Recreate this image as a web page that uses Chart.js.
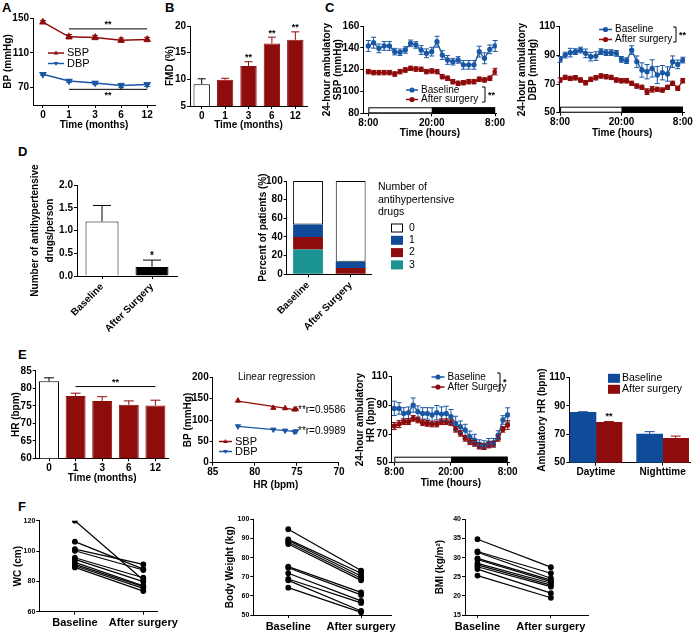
<!DOCTYPE html>
<html>
<head>
<meta charset="utf-8">
<script src="https://cdn.jsdelivr.net/npm/chart.js@4.4.1/dist/chart.umd.min.js"></script>
<style>
body { margin: 0; background: #fff; }
#fig { position: relative; width: 694px; height: 633px; overflow: hidden; background: #fff; }
#fig canvas { position: absolute; left: 0; top: 0; }
.lbl { position: absolute; font: bold 13px 'Liberation Sans', Arial, sans-serif; color: #000; }
</style>
</head>
<body>
<div id="fig">
  <div class="lbl" style="left:2px;top:0px">A</div>
  <div class="lbl" style="left:165px;top:0px">B</div>
  <div class="lbl" style="left:325px;top:0px">C</div>
  <div class="lbl" style="left:18px;top:144px">D</div>
  <div class="lbl" style="left:18px;top:347px">E</div>
  <div class="lbl" style="left:18px;top:499px">F</div>
</div>
<script>
// ---- data ----
const monthLabels = ['0', '1', '3', '6', '12'];
const sbpMonths = [145.3, 128.4, 127.6, 124.5, 125.3];
const sbpMonthsErr = [2.0, 2.5, 2.5, 2.5, 2.5];
const dbpMonths = [85.3, 77.6, 75.3, 72.4, 73.5];
const dbpMonthsErr = [1.0, 1.5, 1.8, 2.5, 2.2];

const fmd = [9.1, 9.9, 12.5, 16.7, 17.4];
const fmdErr = [1.0, 0.3, 0.8, 1.2, 1.5];

const hours = [0, 1, 2, 3, 4, 5, 6, 7, 8, 9, 10, 11, 12, 13, 14, 15, 16, 17, 18, 19, 20, 21, 22, 23, 24];
const hourTickValues = [0, 12, 24];
const hourLabels = ['8:00', '20:00', '8:00'];
const sbpBase = [141.7, 144.7, 139.5, 141.7, 141.7, 136.5, 135.9, 138.0, 144.1, 142.6, 138.0, 135.0, 136.5, 145.6, 133.4, 128.9, 127.3, 128.9, 124.4, 124.4, 124.4, 136.5, 130.4, 138.6, 141.7];
const sbpBaseErr = [5, 5, 4, 4, 4, 3, 3, 3, 3, 3, 4, 4, 4, 5, 4, 4, 3, 3, 4, 4, 4, 5, 5, 4, 5];
const sbpAfter = [118.2, 117.3, 117.3, 117.3, 117.3, 116.0, 118.2, 119.7, 121.2, 120.6, 120.3, 118.2, 118.8, 118.2, 113.6, 112.1, 109.0, 107.5, 108.1, 109.0, 109.0, 111.2, 110.6, 112.1, 118.2];
const sbpAfterErr = [2, 2, 2, 2, 2, 2, 2, 2, 2, 2, 2, 2, 2, 2, 2, 2, 2, 2, 2, 2, 2, 2, 2, 2, 3];
const dbpBase = [87.2, 90.2, 91.9, 92.6, 93.7, 91.4, 89.1, 89.5, 92.6, 91.9, 91.9, 91.4, 87.2, 86.3, 93.7, 85.6, 79.8, 78.6, 80.9, 76.3, 77.9, 77.0, 85.6, 83.7, 86.7];
const dbpBaseErr = [2, 2, 3, 2, 2, 3, 3, 3, 2, 2, 2, 2, 2, 2, 3, 4, 5, 5, 6, 6, 5, 5, 4, 3, 2];
const dbpAfter = [72.8, 74.6, 73.9, 74.4, 72.8, 70.9, 73.3, 74.4, 75.6, 75.1, 74.6, 72.8, 72.3, 72.3, 70.5, 68.6, 67.7, 64.7, 66.3, 66.3, 65.8, 67.7, 70.5, 67.0, 72.3];
const dbpAfterErr = [1.5, 1.5, 1.5, 1.5, 1.5, 1.5, 1.5, 1.5, 1.5, 1.5, 1.5, 1.5, 1.5, 1.5, 1.5, 1.5, 1.5, 2, 2, 1.5, 1.5, 1.5, 1.5, 1.5, 1.5];

const drugGroups = ['Baseline', 'After Surgery'];
const drugsPerPerson = [1.2, 0.2];
const drugsPerPersonErr = [0.35, 0.15];
const drugCountLabels = ['0', '1', '2', '3'];
const pctDrugs0 = [46.7, 86.6];
const pctDrugs1 = [13.3, 6.7];
const pctDrugs2 = [13.3, 6.7];
const pctDrugs3 = [26.7, 0];

const hrMonths = [82.0, 77.8, 76.4, 75.3, 75.1];
const hrMonthsErr = [1.0, 0.8, 1.2, 1.1, 1.5];
const rSbp = 'r=0.9586';
const rDbp = 'r=0.9989';

const hrBase = [87.9, 87.9, 84.4, 84.9, 90.2, 85.6, 84.4, 84.4, 83.3, 84.9, 83.9, 84.4, 82.1, 77.4, 75.1, 72.8, 68.1, 65.8, 63.0, 62.3, 63.9, 63.9, 69.3, 79.8, 83.3];
const hrBaseErr = [5, 4, 4, 4, 5, 4, 4, 4, 5, 5, 5, 5, 5, 5, 4, 4, 4, 4, 3, 3, 3, 3, 3, 3, 5];
const hrAfter = [75.6, 77.0, 78.6, 78.6, 80.9, 79.8, 77.9, 77.4, 77.0, 77.0, 78.6, 78.6, 77.9, 73.3, 70.5, 67.0, 64.6, 63.5, 61.6, 61.2, 62.3, 63.0, 67.0, 73.3, 76.3];
const hrAfterErr = [2.5, 2.5, 2, 2, 2, 2, 2, 2, 2, 2, 2, 2, 2, 2, 2, 2, 2, 2, 2, 2, 2, 2, 2, 2, 3];

const periodLabels = ['Daytime', 'Nighttime'];
const ambHrBase = [85.4, 70.1];
const ambHrBaseErr = [0.4, 1.7];
const ambHrAfter = [78.4, 67.1];
const ambHrAfterErr = [0.5, 1.6];

const visitLabels = ['Baseline', 'After surgery'];
const wcBase = [120.0, 106.2, 101.3, 100.2, 95.6, 94.5, 92.5, 91.2, 90.3, 89.2];
const wcAfter = [80.9, 88.1, 91.2, 87.5, 82.4, 79.8, 77.1, 76.5, 75.4, 73.6];
const weightBase = [94.8, 89.5, 88.9, 88.0, 87.1, 75.3, 74.7, 71.8, 68.8, 68.1, 64.3];
const weightAfter = [73.2, 71.8, 70.4, 69.2, 68.1, 61.8, 60.5, 57.4, 56.3, 52.1, 51.4];
const bmiBase = [34.8, 31.6, 31.4, 29.8, 29.5, 28.5, 28.1, 27.6, 27.0, 25.3];
const bmiAfter = [27.5, 25.9, 24.6, 24.1, 23.7, 23.3, 22.8, 22.4, 20.7, 19.5];

// ---- style ----
const W = 694, H = 633;
const RED = '#8e0c0c', BLUE = '#1b58a3', BARBLUE = '#0f4b98', TEAL = '#1c9393';
const FONT = "'Liberation Sans', Arial, Helvetica, sans-serif";

Chart.defaults.font.family = FONT;
Chart.defaults.color = '#000';
Chart.defaults.animation = false;
Chart.defaults.responsive = false;
Chart.defaults.events = [];
Chart.defaults.plugins.legend.display = false;
Chart.defaults.plugins.tooltip.enabled = false;

function makeCanvas() {
  const c = document.createElement('canvas');
  c.width = W; c.height = H;
  document.getElementById('fig').appendChild(c);
  return c;
}

// plot rect in figure pixels -> layout padding (axis sizes are fixed with afterFit)
function pad(p, yW, xH) {
  return { left: p.l - yW, top: p.t, right: W - p.r, bottom: H - p.b - xH };
}

function axisBase(o) {
  const ax = {
    offset: false,
    afterFit: s => { if (s.isHorizontal()) s.height = o.size; else s.width = o.size; },
    grid: { drawOnChartArea: false, offset: false, color: '#000', tickLength: o.tickLength || 3, tickWidth: 1 },
    border: { color: '#000', width: 1 },
    ticks: { color: '#000', padding: o.tickPad ?? 1, autoSkip: false, maxRotation: o.rot || 0, minRotation: o.rot || 0,
             font: { size: o.tickSize || 10, weight: 'bold' } },
    title: { display: !!o.title, text: o.title || '', color: '#000', padding: 0,
             font: { size: o.titleSize || 10, weight: 'bold', lineHeight: o.titleLH || 1.15 } }
  };
  if (o.labels) ax.ticks.callback = v => o.labels[v] ?? '';
  if (o.fmt) ax.ticks.callback = o.fmt;
  return ax;
}
function linAxis(o) {
  const ax = axisBase(o);
  ax.type = 'linear'; ax.min = o.min; ax.max = o.max; ax.reverse = !!o.reverse;
  if (o.ticks) ax.afterBuildTicks = s => { s.ticks = o.ticks.map(v => ({ value: v })); };
  return ax;
}
function catAxis(o) {
  const ax = axisBase(o);
  ax.type = 'category'; ax.offset = true;
  return ax;
}

function overlay(fn) {
  return { id: 'overlay', afterDatasetsDraw(chart) {
    const ctx = chart.ctx; ctx.save(); fn(chart, ctx, chart.scales.x, chart.scales.y); ctx.restore();
  } };
}
function text(ctx, s, x, y, o = {}) {
  ctx.font = `${o.weight || 'bold'} ${o.size || 10}px ${FONT}`;
  ctx.fillStyle = o.color || '#000';
  ctx.textAlign = o.align || 'left';
  ctx.textBaseline = o.base || 'middle';
  ctx.fillText(s, x, y);
}
function seg(ctx, x1, y1, x2, y2, color = '#000', w = 1) {
  ctx.strokeStyle = color; ctx.lineWidth = w;
  ctx.beginPath(); ctx.moveTo(x1, y1); ctx.lineTo(x2, y2); ctx.stroke();
}
function marker(ctx, style, x, y, r, color) {
  ctx.fillStyle = color;
  ctx.beginPath();
  if (style === 'circle') ctx.arc(x, y, r, 0, Math.PI * 2);
  else {
    const s = style === 'up' ? 1 : -1;
    ctx.moveTo(x, y - s * r); ctx.lineTo(x + r * 0.9, y + s * r * 0.55); ctx.lineTo(x - r * 0.9, y + s * r * 0.55); ctx.closePath();
  }
  ctx.fill();
}
function legendLine(ctx, x, y, len, color, style, label, size = 10) {
  seg(ctx, x, y, x + len, y, color, 1.5);
  marker(ctx, style, x + len / 2, y, 2.6, color);
  text(ctx, label, x + len + 3, y, { size, weight: 'normal' });
}
function bracket(ctx, x, y1, y2, s) {
  ctx.strokeStyle = '#000'; ctx.lineWidth = 1;
  ctx.beginPath(); ctx.moveTo(x - 3, y1); ctx.lineTo(x, y1); ctx.lineTo(x, y2); ctx.lineTo(x - 3, y2); ctx.stroke();
  text(ctx, s, x + 3, (y1 + y2) / 2 + 1, { size: 9 });
}
function errBars(chart, di, errs, colors, upOnly, cap) {
  const ctx = chart.ctx, ys = chart.scales.y;
  const vals = chart.data.datasets[di].data;
  chart.getDatasetMeta(di).data.forEach((el, j) => {
    const v = typeof vals[j] === 'object' ? vals[j].y : vals[j];
    const e = errs[j];
    if (!e) return;
    const col = Array.isArray(colors) ? colors[j] : colors;
    const top = ys.getPixelForValue(v + e);
    const bot = ys.getPixelForValue(upOnly ? v : v - e);
    ctx.strokeStyle = col; ctx.lineWidth = 1;
    ctx.beginPath();
    ctx.moveTo(el.x, top); ctx.lineTo(el.x, bot);
    ctx.moveTo(el.x - cap, top); ctx.lineTo(el.x + cap, top);
    if (!upOnly) { ctx.moveTo(el.x - cap, bot); ctx.lineTo(el.x + cap, bot); }
    ctx.stroke();
  });
}
function dayNight(ctx, xs, ys) {
  const y0 = ys.bottom, h = 6;
  const x0 = xs.getPixelForValue(0), x1 = xs.getPixelForValue(12), x2 = xs.getPixelForValue(24);
  ctx.fillStyle = '#fff'; ctx.fillRect(x0, y0 - h, x1 - x0, h);
  ctx.fillStyle = '#000'; ctx.fillRect(x1, y0 - h, x2 - x1, h);
  ctx.strokeStyle = '#000'; ctx.lineWidth = 1;
  ctx.strokeRect(x0 + 0.5, y0 - h + 0.5, x2 - x0 - 1, h - 1);
}
function fitLine(xv, yv) {
  const n = xv.length;
  const mx = xv.reduce((a, b) => a + b) / n, my = yv.reduce((a, b) => a + b) / n;
  let sxy = 0, sxx = 0;
  for (let i = 0; i < n; i++) { sxy += (xv[i] - mx) * (yv[i] - my); sxx += (xv[i] - mx) ** 2; }
  const k = sxy / sxx, b = my - k * mx;
  const lo = Math.min(...xv), hi = Math.max(...xv);
  return [{ x: lo, y: k * lo + b }, { x: hi, y: k * hi + b }];
}
const idxData = arr => arr.map((y, i) => ({ x: i, y }));
const hourData = arr => arr.map((y, i) => ({ x: hours[i], y }));
function ambLine(label, arr, color) {
  return { label, data: hourData(arr), borderColor: color, backgroundColor: color, borderWidth: 1.3,
           pointRadius: 2, pointStyle: 'circle' };
}

// ---- A: BP over months ----
const pA = { l: 33, r: 155, t: 18, b: 105 };
new Chart(makeCanvas(), {
  type: 'line',
  data: { datasets: [
    { label: 'SBP', data: idxData(sbpMonths), borderColor: RED, backgroundColor: RED, borderWidth: 1.5, pointStyle: 'triangle', pointRadius: 3 },
    { label: 'DBP', data: idxData(dbpMonths), borderColor: BLUE, backgroundColor: BLUE, borderWidth: 1.5, pointStyle: 'triangle', pointRotation: 180, pointRadius: 3 }
  ] },
  options: {
    layout: { padding: pad(pA, 31, 26) },
    scales: {
      x: linAxis({ min: -0.38, max: 4.3, ticks: [0, 1, 2, 3, 4], labels: monthLabels, size: 26, title: 'Time (months)' }),
      y: linAxis({ min: 50, max: 150, ticks: [70, 110, 150], size: 31, title: 'BP (mmHg)' })
    }
  },
  plugins: [overlay((c, ctx, xs, ys) => {
    errBars(c, 0, sbpMonthsErr, RED, false, 3);
    errBars(c, 1, dbpMonthsErr, BLUE, false, 3);
    const x1 = xs.getPixelForValue(1), x4 = xs.getPixelForValue(4), xm = (x1 + x4) / 2;
    seg(ctx, x1, ys.getPixelForValue(137.5), x4, ys.getPixelForValue(137.5));
    text(ctx, '**', xm, ys.getPixelForValue(137.5) - 4, { align: 'center', size: 9 });
    seg(ctx, x1, ys.getPixelForValue(68), x4, ys.getPixelForValue(68));
    text(ctx, '**', xm, ys.getPixelForValue(68) + 6, { align: 'center', size: 9 });
    legendLine(ctx, 48, 53, 16, RED, 'up', 'SBP', 11);
    legendLine(ctx, 48, 63.5, 16, BLUE, 'down', 'DBP', 11);
  })]
});

// ---- B: FMD ----
const pB = { l: 190, r: 307, t: 26, b: 106 };
new Chart(makeCanvas(), {
  type: 'bar',
  data: { labels: monthLabels, datasets: [{
    data: fmd, backgroundColor: ['#fff', RED, RED, RED, RED], borderColor: ['#000', RED, RED, RED, RED],
    borderWidth: 1, barPercentage: 0.7, categoryPercentage: 1
  }] },
  options: {
    layout: { padding: pad(pB, 26, 25) },
    scales: {
      x: catAxis({ size: 25, title: 'Time (months)' }),
      y: linAxis({ min: 5, max: 20, ticks: [5, 10, 15, 20], size: 26, title: 'FMD (%)' })
    }
  },
  plugins: [overlay((c, ctx, xs, ys) => {
    errBars(c, 0, fmdErr, ['#000', RED, RED, RED, RED], true, 4);
    [2, 3, 4].forEach(i => text(ctx, '**', xs.getPixelForValue(i), ys.getPixelForValue(fmd[i] + fmdErr[i]) - 4, { align: 'center', size: 9 }));
  })]
});

// ---- C: ambulatory SBP / DBP ----
function ambChart(p, yW, xH, xmin, xmax, ymin, ymax, yticks, title, base, baseErr, after, afterErr, legendFn) {
  new Chart(makeCanvas(), {
    type: 'line',
    data: { datasets: [ambLine('Baseline', base, BLUE), ambLine('After surgery', after, RED)] },
    options: {
      layout: { padding: pad(p, yW, xH) },
      scales: {
        x: linAxis({ min: xmin, max: xmax, ticks: hourTickValues, fmt: v => hourLabels[hourTickValues.indexOf(v)], size: xH, title: 'Time (hours)', titleSize: 10 }),
        y: linAxis({ min: ymin, max: ymax, ticks: yticks, size: yW, title: title })
      }
    },
    plugins: [
      { id: 'dn', beforeDatasetsDraw(c) { c.ctx.save(); dayNight(c.ctx, c.scales.x, c.scales.y); c.ctx.restore(); } },
      overlay((c, ctx) => {
        errBars(c, 0, baseErr, BLUE, false, 2.5);
        errBars(c, 1, afterErr, RED, false, 2.5);
        legendFn(ctx);
      })
    ]
  });
}
ambChart({ l: 363.3, r: 496.7, t: 26, b: 113.3 }, 42, 26, -0.95, 24.3, 80, 160, [80, 100, 120, 140, 160],
  ['24-hour ambulatory', 'SBP (mmHg)'], sbpBase, sbpBaseErr, sbpAfter, sbpAfterErr, ctx => {
    legendLine(ctx, 406, 90, 12, BLUE, 'circle', 'Baseline');
    legendLine(ctx, 406, 99.5, 12, RED, 'circle', 'After surgery');
    bracket(ctx, 485, 87, 102, '**');
  });
ambChart({ l: 559.3, r: 686, t: 26.7, b: 112.7 }, 43, 26, -0.15, 24.4, 50, 110, [50, 70, 90, 110],
  ['24-hour ambulatory', 'DBP (mmHg)'], dbpBase, dbpBaseErr, dbpAfter, dbpAfterErr, ctx => {
    legendLine(ctx, 599, 29.5, 13, BLUE, 'circle', 'Baseline');
    legendLine(ctx, 599, 39.5, 13, RED, 'circle', 'After surgery');
    bracket(ctx, 676, 27, 42, '**');
  });

// ---- D: drugs per person ----
const pD1 = { l: 77, r: 177, t: 185, b: 276 };
new Chart(makeCanvas(), {
  type: 'bar',
  data: { labels: drugGroups, datasets: [{
    data: drugsPerPerson, backgroundColor: ['#fff', '#000'], borderColor: '#000', borderWidth: 1,
    barPercentage: 0.66, categoryPercentage: 1
  }] },
  options: {
    layout: { padding: pad(pD1, 49.5, 62) },
    scales: {
      x: catAxis({ size: 62, rot: 45, tickPad: 2 }),
      y: linAxis({ min: 0, max: 2, ticks: [0, 0.5, 1, 1.5, 2], fmt: v => v.toFixed(1), size: 49.5,
                   title: ['Number of antihypertensive', 'drugs/person'], titleLH: 1.5 })
    }
  },
  plugins: [overlay((c, ctx, xs, ys) => {
    errBars(c, 0, drugsPerPersonErr, '#000', true, 9);
    text(ctx, '*', xs.getPixelForValue(1), ys.getPixelForValue(drugsPerPerson[1] + drugsPerPersonErr[1]) - 4, { align: 'center', size: 10 });
  })]
});

// ---- D: percent of patients ----
const pD2 = { l: 286.7, r: 372, t: 181, b: 274.3 };
const drugColors = ['#fff', BARBLUE, RED, TEAL];
new Chart(makeCanvas(), {
  type: 'bar',
  data: { labels: drugGroups, datasets: [
    { label: '3', data: pctDrugs3, backgroundColor: TEAL, borderColor: TEAL, borderWidth: 0 },
    { label: '2', data: pctDrugs2, backgroundColor: RED, borderColor: RED, borderWidth: 0 },
    { label: '1', data: pctDrugs1, backgroundColor: BARBLUE, borderColor: BARBLUE, borderWidth: 0 },
    { label: '0', data: pctDrugs0, backgroundColor: '#fff', borderColor: '#000', borderWidth: 1, borderSkipped: false }
  ].map(d => Object.assign(d, { barPercentage: 0.7, categoryPercentage: 1 })) },
  options: {
    layout: { padding: pad(pD2, 29, 62) },
    scales: {
      x: Object.assign(catAxis({ size: 62, rot: 45, tickPad: 2 }), { stacked: true }),
      y: Object.assign(linAxis({ min: 0, max: 100, ticks: [0, 20, 40, 60, 80, 100], size: 29, title: 'Percent of patients (%)' }), { stacked: true })
    }
  },
  plugins: [overlay((c, ctx) => {
    ['Number of', 'antihypertensive', 'drugs'].forEach((s, i) => text(ctx, s, 378, 187 + i * 12.7, { weight: 'normal', size: 10.5 }));
    drugCountLabels.forEach((s, i) => {
      const y = 228 + i * 12.3;
      ctx.fillStyle = drugColors[i]; ctx.fillRect(391, y - 4.5, 12, 9);
      if (i === 0) { ctx.strokeStyle = '#000'; ctx.lineWidth = 1; ctx.strokeRect(391.5, y - 4, 11, 8); }
      text(ctx, s, 409, y, { weight: 'normal', size: 10.5 });
    });
  })]
});

// ---- E: HR over months ----
const pE1 = { l: 35.7, r: 168.7, t: 370.8, b: 458.3 };
new Chart(makeCanvas(), {
  type: 'bar',
  data: { labels: monthLabels, datasets: [{
    data: hrMonths, backgroundColor: ['#fff', RED, RED, RED, RED], borderColor: ['#000', RED, RED, RED, RED],
    borderWidth: 1, barPercentage: 0.75, categoryPercentage: 1
  }] },
  options: {
    layout: { padding: pad(pE1, 25.5, 25.7) },
    scales: {
      x: catAxis({ size: 25.7, title: 'Time (months)' }),
      y: linAxis({ min: 60, max: 85, ticks: [60, 65, 70, 75, 80, 85], size: 25.5, title: 'HR (bpm)' })
    }
  },
  plugins: [overlay((c, ctx, xs, ys) => {
    errBars(c, 0, hrMonthsErr, ['#000', RED, RED, RED, RED], true, 5);
    const x1 = xs.getPixelForValue(1), x4 = xs.getPixelForValue(4), y = ys.getPixelForValue(80.5);
    seg(ctx, x1, y, x4, y);
    text(ctx, '**', (x1 + x4) / 2, y - 4, { align: 'center', size: 9 });
  })]
});

// ---- E: BP vs HR regression ----
const pE2 = { l: 212.7, r: 339, t: 377.3, b: 462.7 };
const ptsSbp = hrMonths.map((x, i) => ({ x, y: sbpMonths[i] }));
const ptsDbp = hrMonths.map((x, i) => ({ x, y: dbpMonths[i] }));
new Chart(makeCanvas(), {
  type: 'scatter',
  data: { datasets: [
    { label: 'SBP fit', data: fitLine(hrMonths, sbpMonths), showLine: true, pointRadius: 0, borderColor: RED, borderWidth: 1.3 },
    { label: 'DBP fit', data: fitLine(hrMonths, dbpMonths), showLine: true, pointRadius: 0, borderColor: BLUE, borderWidth: 1.3 },
    { label: 'SBP', data: ptsSbp, pointStyle: 'triangle', pointRadius: 3, backgroundColor: RED, borderColor: RED },
    { label: 'DBP', data: ptsDbp, pointStyle: 'triangle', pointRotation: 180, pointRadius: 3, backgroundColor: BLUE, borderColor: BLUE }
  ] },
  options: {
    layout: { padding: pad(pE2, 30, 28) },
    scales: {
      x: linAxis({ min: 70, max: 85, reverse: true, ticks: [70, 75, 80, 85], size: 28, title: 'HR (bpm)', titleSize: 10 }),
      y: linAxis({ min: 0, max: 200, ticks: [0, 50, 100, 150, 200], size: 30, title: 'BP (mmHg)' })
    }
  },
  plugins: [overlay((c, ctx) => {
    text(ctx, 'Linear regression', 238, 377, { weight: 'normal', size: 10 });
    text(ctx, '**' + rSbp, 298, 410, { weight: 'normal', size: 10 });
    text(ctx, '**' + rDbp, 298, 431.5, { weight: 'normal', size: 10 });
    legendLine(ctx, 219, 441.5, 13, RED, 'up', 'SBP', 11);
    legendLine(ctx, 219, 451.5, 13, BLUE, 'down', 'DBP', 11);
  })]
});

// ---- E: ambulatory HR ----
ambChart({ l: 391.7, r: 510, t: 376.7, b: 462.7 }, 37.5, 26.3, -0.55, 24.5, 50, 110, [50, 70, 90, 110],
  ['24-hour ambulatory', 'HR (bpm)'], hrBase, hrBaseErr, hrAfter, hrAfterErr, ctx => {
    legendLine(ctx, 431.5, 377, 13, BLUE, 'circle', 'Baseline');
    legendLine(ctx, 431.5, 387, 13, RED, 'circle', 'After Surgery');
    bracket(ctx, 500, 373, 391, '*');
  });

// ---- E: day / night HR bars ----
const pE4 = { l: 569.3, r: 690, t: 377.3, b: 462.7 };
new Chart(makeCanvas(), {
  type: 'bar',
  data: { datasets: [
    { label: 'Baseline', data: idxData(ambHrBase), backgroundColor: BARBLUE, barThickness: 26 },
    { label: 'After surgery', data: idxData(ambHrAfter), backgroundColor: RED, barThickness: 26 }
  ] },
  options: {
    layout: { padding: pad(pE4, 33.3, 20) },
    scales: {
      x: linAxis({ min: -0.4, max: 1.41, ticks: [0, 1], labels: periodLabels, size: 20 }),
      y: linAxis({ min: 50, max: 110, ticks: [50, 70, 90, 110], size: 33.3, title: 'Ambulatory HR (bpm)' })
    }
  },
  plugins: [overlay((c, ctx, xs, ys) => {
    errBars(c, 0, ambHrBaseErr, BARBLUE, true, 5);
    errBars(c, 1, ambHrAfterErr, RED, true, 5);
    const el = c.getDatasetMeta(1).data[0];
    text(ctx, '**', el.x, ys.getPixelForValue(ambHrAfter[0] + ambHrAfterErr[0]) - 5, { align: 'center', size: 9 });
    [['Baseline', BARBLUE], ['After surgery', RED]].forEach(([s, col], i) => {
      const y = 378.3 + i * 11;
      ctx.fillStyle = col; ctx.fillRect(608, y - 4.5, 12, 9);
      text(ctx, s, 622, y, { weight: 'normal', size: 10.5 });
    });
  })]
});

// ---- F: paired before / after ----
function pairChart(p, yW, xmin, xmax, ymin, ymax, yticks, title, base, after) {
  new Chart(makeCanvas(), {
    type: 'line',
    data: { datasets: base.map((b, i) => ({
      data: [{ x: 0, y: b }, { x: 1, y: after[i] }], borderColor: '#000', backgroundColor: '#000',
      borderWidth: 1.2, pointRadius: 2.3
    })) },
    options: {
      layout: { padding: pad(p, yW, 19) },
      scales: {
        x: linAxis({ min: xmin, max: xmax, ticks: [0, 1], labels: visitLabels, size: 19, tickSize: 11, tickPad: 2 }),
        y: linAxis({ min: ymin, max: ymax, ticks: yticks, size: yW, title, tickSize: 7 })
      }
    }
  });
}
pairChart({ l: 39.3, r: 157, t: 520.7, b: 611.7 }, 26.8, -0.52, 1.2, 60, 120, [60, 80, 100, 120], 'WC (cm)', wcBase, wcAfter);
pairChart({ l: 253.3, r: 391.7, t: 519.3, b: 615 }, 29, -0.48, 1.42, 50, 100, [50, 60, 70, 80, 90, 100], 'Body Weight (kg)', weightBase, weightAfter);
pairChart({ l: 465, r: 588.3, t: 519.3, b: 615 }, 30.75, -0.17, 1.51, 15, 40, [15, 20, 25, 30, 35, 40], 'BMI (kg/m²)', bmiBase, bmiAfter);
</script>
</body>
</html>
